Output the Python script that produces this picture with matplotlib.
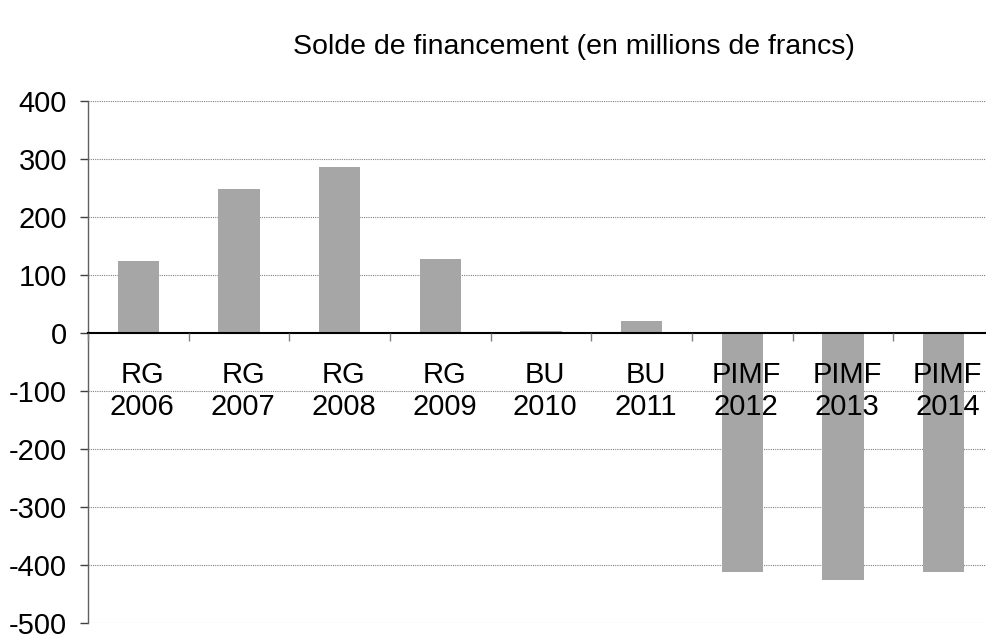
import matplotlib
matplotlib.use("Agg")
import matplotlib.pyplot as plt
import numpy as np

plt.rcParams['font.family'] = ['Liberation Sans', 'DejaVu Sans']

categories = ["RG\n2006", "RG\n2007", "RG\n2008", "RG\n2009", "BU\n2010",
              "BU\n2011", "PIMF\n2012", "PIMF\n2013", "PIMF\n2014"]
values = [125, 249, 287, 128, 4, 21, -411, -425, -411]
yticks = [-500, -400, -300, -200, -100, 0, 100, 200, 300, 400]
title = "Solde de financement (en millions de francs)"

fig = plt.figure(figsize=(9.86, 6.37), dpi=100)
ax = fig.add_axes([88/986, 0.0215, (994-88)/986, 0.8195])

n = len(categories)
centers = np.arange(n) + 0.5

for yv in yticks:
    if yv != 0:
        ax.axhline(yv, color='#808080', linestyle=(0, (1, 1)), linewidth=0.8, zorder=0)

ax.bar(centers, values, width=0.41, color='#a6a6a6', zorder=1)

ax.set_xlim(0, n)
ax.set_ylim(-500, 400)
ax.set_yticks(yticks)
ax.set_yticklabels([str(v) for v in yticks])
ax.tick_params(axis='y', labelsize=21, length=6, color='#404040', width=1, pad=9)

ax.set_xticks(np.arange(n + 1))
ax.set_xticklabels([])
ax.set_xticks(centers + 0.04, minor=True)
ax.set_xticklabels(categories, minor=True)
ax.tick_params(axis='x', which='minor', length=0, pad=20, labelsize=21)
ax.tick_params(axis='x', which='major', length=6, direction='out', color='#808080', width=1)
ax.xaxis.set_zorder(5)

ax.spines['top'].set_visible(False)
ax.spines['right'].set_visible(False)
ax.spines['bottom'].set_position(('data', 0))
ax.spines['bottom'].set_color('black')
ax.spines['bottom'].set_linewidth(1.5)
ax.spines['bottom'].set_zorder(3)
ax.spines['left'].set_color('#606060')
ax.spines['left'].set_linewidth(1)

fig.text(574/986, 1 - 47/637, title, fontsize=20.5, ha='center', va='center')

fig.savefig("out.png", dpi=100)
